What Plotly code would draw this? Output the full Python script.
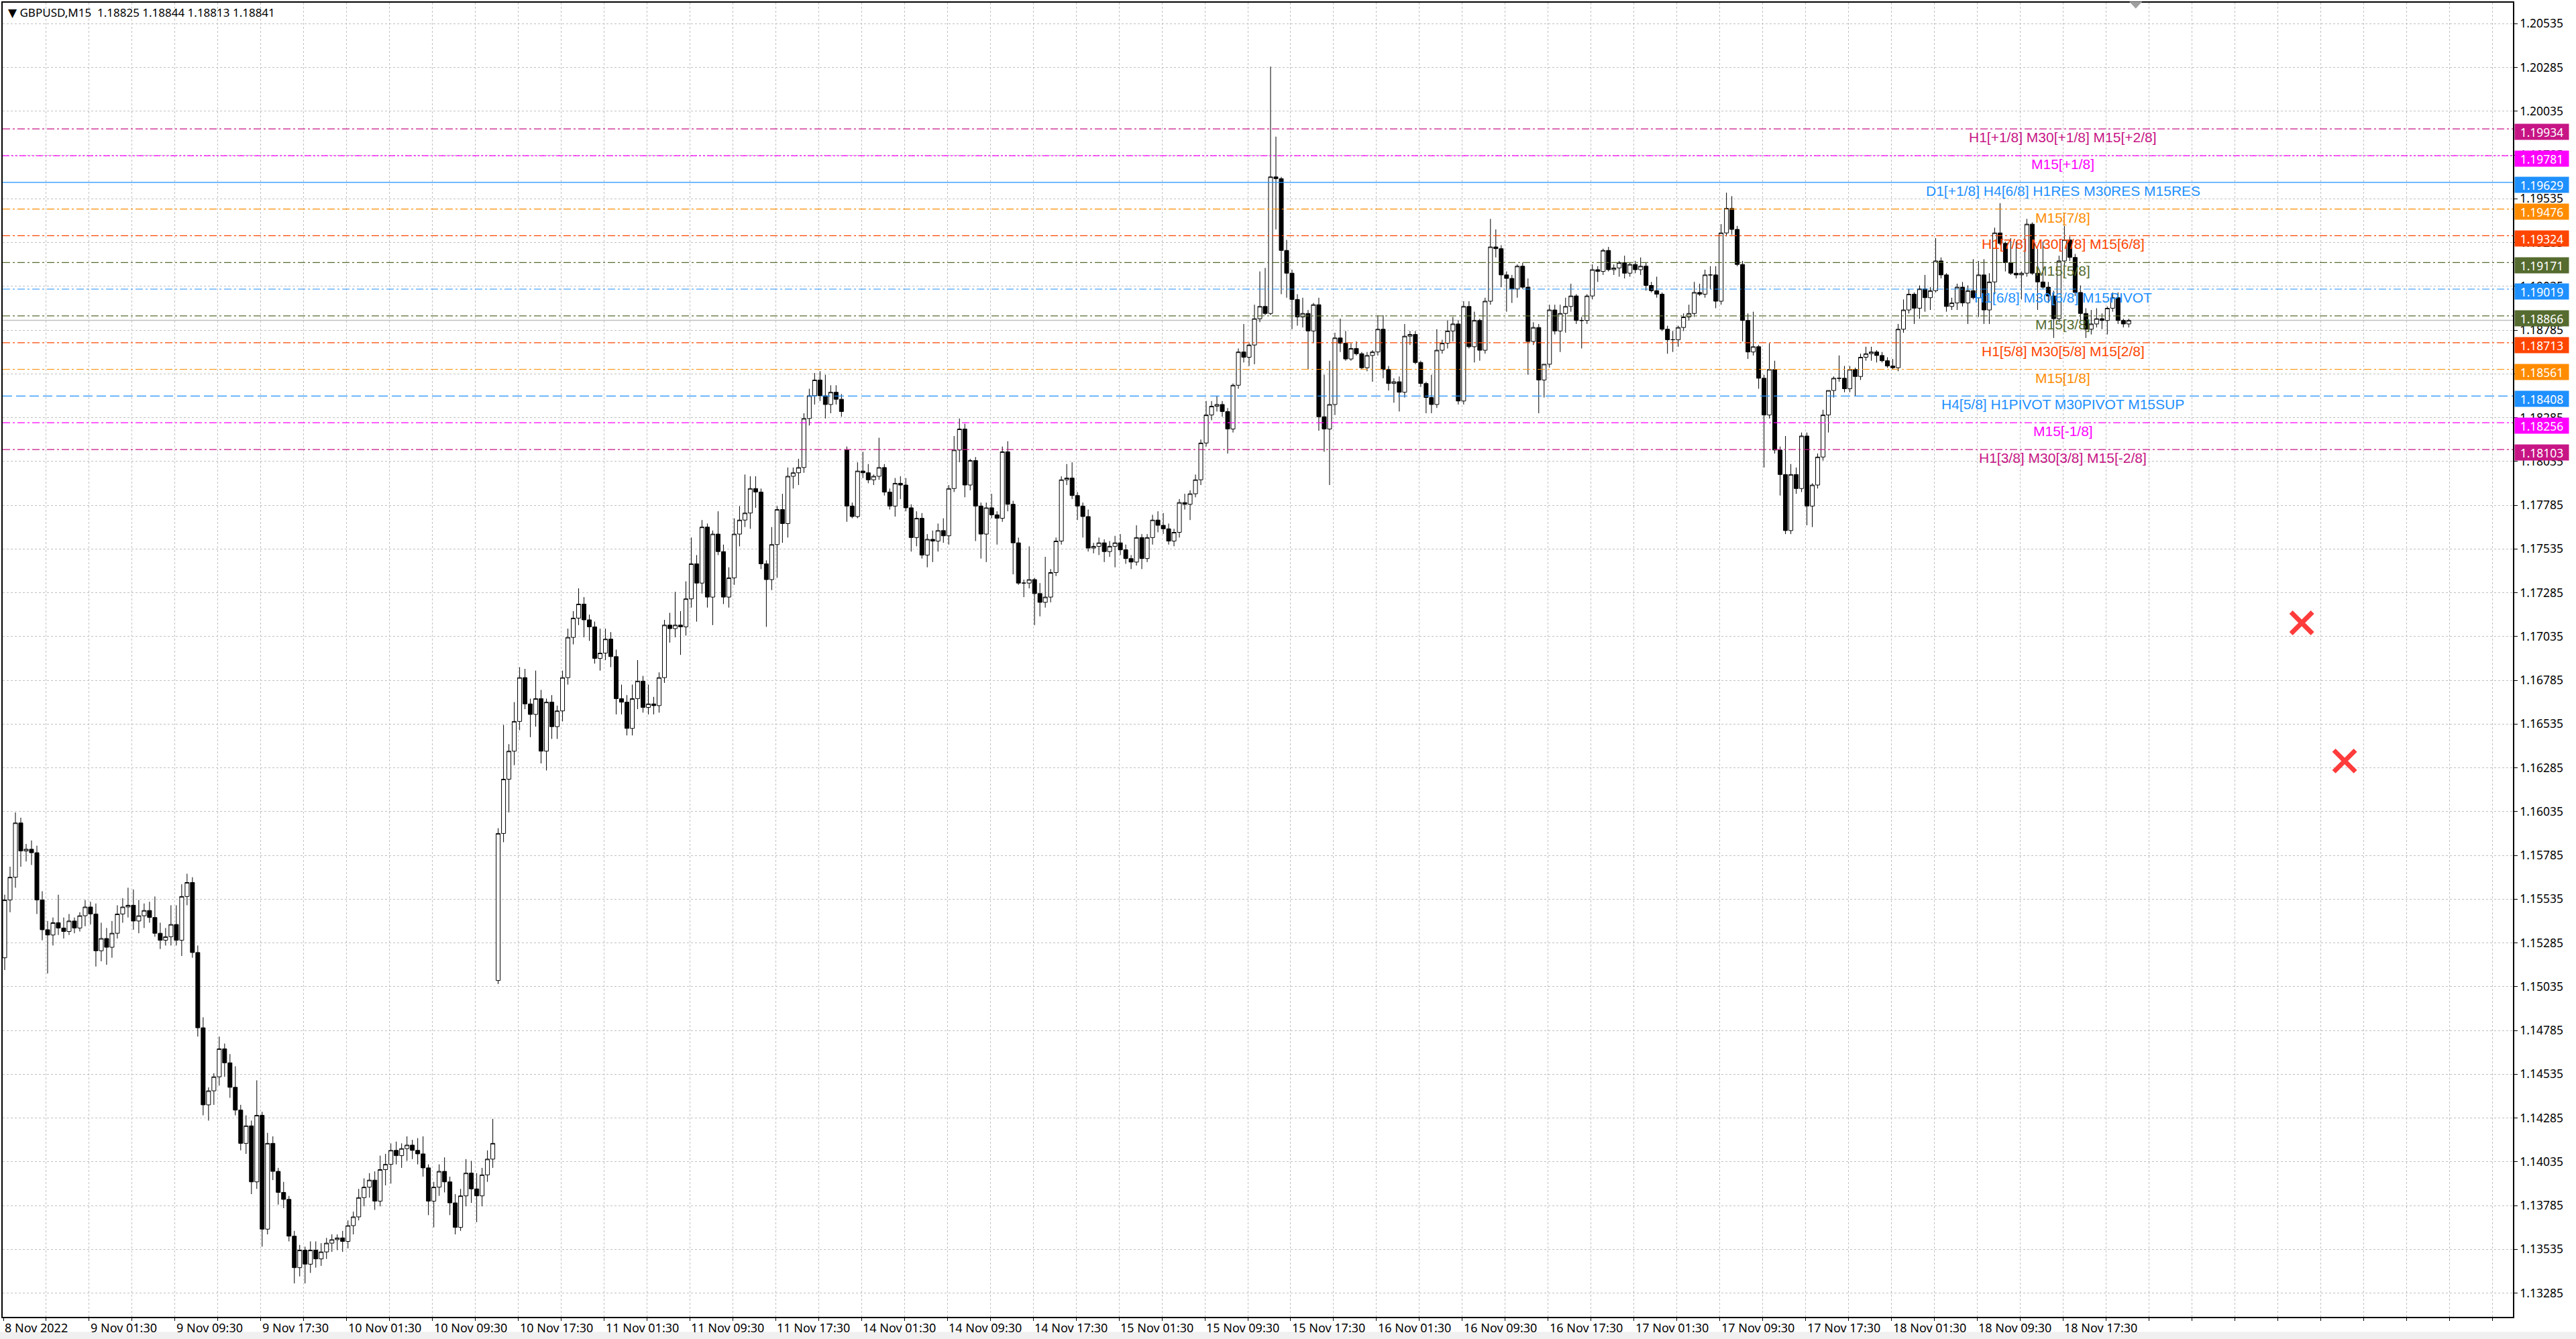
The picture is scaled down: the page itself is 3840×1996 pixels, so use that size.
import plotly.graph_objects as go

# ---------------- data (30-minute aggregation of the GBPUSD M15 chart) ----------------
opens = [
    1.1520, 1.1553, 1.1566, 1.1597, 1.1581, 1.1582, 1.1580, 1.1553, 1.1536, 1.1533,
    1.1540, 1.1537, 1.1535, 1.1541, 1.1537, 1.1544, 1.1549, 1.1545, 1.1524, 1.1531,
    1.1526, 1.1534, 1.1545, 1.1549, 1.1550, 1.1541, 1.1544, 1.1547, 1.1543, 1.1534,
    1.1530, 1.1532, 1.1539, 1.1530, 1.1555, 1.1563, 1.1523, 1.1480, 1.1436, 1.1444,
    1.1452, 1.1468, 1.1460, 1.1446, 1.1433, 1.1414, 1.1424, 1.1392, 1.1430, 1.1365,
    1.1414, 1.1398, 1.1386, 1.1382, 1.1361, 1.1343, 1.1353, 1.1345, 1.1353, 1.1348,
    1.1352, 1.1357, 1.1359, 1.1360, 1.1358, 1.1367, 1.1372, 1.1383, 1.1389, 1.1393,
    1.1381, 1.1399, 1.1402, 1.1410, 1.1407, 1.1411, 1.1413, 1.1410, 1.1408, 1.1400,
    1.1381, 1.1389, 1.1398, 1.1392, 1.1380, 1.1366, 1.1384, 1.1397, 1.1388, 1.1384,
    1.1396, 1.1405, 1.1507, 1.1591, 1.1622, 1.1638, 1.1655, 1.1680, 1.1665, 1.1659,
    1.1668, 1.1638, 1.1666, 1.1652, 1.1661, 1.1680, 1.1703, 1.1714, 1.1722, 1.1713,
    1.1709, 1.1691, 1.1694, 1.1702, 1.1692, 1.1668, 1.1666, 1.1651, 1.1668, 1.1678,
    1.1663, 1.1665, 1.1664, 1.1680, 1.1710, 1.1708, 1.1710, 1.1709, 1.1725, 1.1745,
    1.1734, 1.1766, 1.1726, 1.1762, 1.1752, 1.1726, 1.1737, 1.1762, 1.1770, 1.1774,
    1.1788, 1.1786, 1.1745, 1.1736, 1.1756, 1.1776, 1.1768, 1.1795, 1.1797, 1.1800,
    1.1828, 1.1841, 1.1850, 1.1841, 1.1836, 1.1843, 1.1839, 1.1810, 1.1778, 1.1772,
    1.1798, 1.1797, 1.1793, 1.1795, 1.1800, 1.1786, 1.1778, 1.1791, 1.1790, 1.1777,
    1.1760, 1.1771, 1.1750, 1.1759, 1.1758, 1.1764, 1.1761, 1.1788, 1.1810, 1.1822,
    1.1790, 1.1804, 1.1778, 1.1762, 1.1777, 1.1773, 1.1771, 1.1809, 1.1779, 1.1757,
    1.1734, 1.1734, 1.1736, 1.1728, 1.1723, 1.1726, 1.1740, 1.1758, 1.1793, 1.1794,
    1.1784, 1.1778, 1.1772, 1.1754, 1.1755, 1.1757, 1.1752, 1.1755, 1.1757, 1.1753,
    1.1748, 1.1746, 1.1760, 1.1748, 1.1760, 1.1770, 1.1767, 1.1765, 1.1758, 1.1763,
    1.1780, 1.1779, 1.1785, 1.1793, 1.1814, 1.1830, 1.1835, 1.1836, 1.1832, 1.1822,
    1.1847, 1.1866, 1.1863, 1.1870, 1.1885, 1.1892, 1.1888, 1.1966, 1.1965, 1.1924,
    1.1911, 1.1896, 1.1886, 1.1888, 1.1878, 1.1893, 1.1829, 1.1822, 1.1836, 1.1874,
    1.1871, 1.1862, 1.1868, 1.1865, 1.1857, 1.1864, 1.1866, 1.1879, 1.1856, 1.1848,
    1.1849, 1.1843, 1.1875, 1.1876, 1.1860, 1.1848, 1.1840, 1.1836, 1.1867, 1.1871,
    1.1878, 1.1882, 1.1838, 1.1892, 1.1869, 1.1884, 1.1867, 1.1895, 1.1926, 1.1925,
    1.1910, 1.1908, 1.1902, 1.1915, 1.1903, 1.1872, 1.1880, 1.1850, 1.1859, 1.1890,
    1.1878, 1.1888, 1.1892, 1.1898, 1.1884, 1.1884, 1.1898, 1.1913, 1.1912, 1.1924,
    1.1913, 1.1914, 1.1917, 1.1911, 1.1916, 1.1913, 1.1915, 1.1904, 1.1901, 1.1899,
    1.1879, 1.1873, 1.1873, 1.1880, 1.1886, 1.1888, 1.1900, 1.1899, 1.1910, 1.1910,
    1.1895, 1.1934, 1.1948, 1.1936, 1.1916, 1.1884, 1.1866, 1.1869, 1.1851, 1.1830,
    1.1856, 1.1810, 1.1796, 1.1764, 1.1796, 1.1788, 1.1818, 1.1778, 1.1790, 1.1806,
    1.1830, 1.1844, 1.1851, 1.1851, 1.1845, 1.1856, 1.1852, 1.1863, 1.1865, 1.1866,
    1.1864, 1.1861, 1.1858, 1.1857, 1.1879, 1.1890, 1.1899, 1.1891, 1.1902, 1.1897,
    1.1901, 1.1918, 1.1910, 1.1892, 1.1894, 1.1903, 1.1894, 1.1901, 1.1897, 1.1910,
    1.1890, 1.1906, 1.1934, 1.1928, 1.1917, 1.1911, 1.1910, 1.1911, 1.1939, 1.1911,
    1.1906, 1.1903, 1.1898, 1.1885, 1.1918, 1.1930, 1.1920, 1.1900, 1.1888, 1.1879,
    1.1882, 1.1885, 1.1884, 1.1891, 1.1897, 1.1884, 1.1882,
]

highs = [
    1.1556, 1.1572, 1.1603, 1.1600, 1.1585, 1.1587, 1.1584, 1.1558, 1.1541, 1.1543,
    1.1556, 1.1543, 1.1545, 1.1543, 1.1546, 1.1553, 1.1552, 1.1551, 1.1540, 1.1537,
    1.1541, 1.1550, 1.1554, 1.1560, 1.1559, 1.1553, 1.1551, 1.1552, 1.1555, 1.1540,
    1.1537, 1.1550, 1.1550, 1.1562, 1.1568, 1.1566, 1.1527, 1.1486, 1.1446, 1.1454,
    1.1475, 1.1471, 1.1465, 1.1458, 1.1436, 1.1430, 1.1427, 1.1450, 1.1432, 1.1420,
    1.1418, 1.1400, 1.1392, 1.1384, 1.1364, 1.1356, 1.1355, 1.1358, 1.1358, 1.1357,
    1.1360, 1.1362, 1.1362, 1.1364, 1.1370, 1.1375, 1.1388, 1.1394, 1.1397, 1.1398,
    1.1407, 1.1408, 1.1414, 1.1415, 1.1414, 1.1418, 1.1416, 1.1417, 1.1418, 1.1402,
    1.1392, 1.1402, 1.1406, 1.1395, 1.1385, 1.1388, 1.1405, 1.1404, 1.1397, 1.1400,
    1.1410, 1.1428, 1.1594, 1.1653, 1.1642, 1.1666, 1.1686, 1.1685, 1.1668, 1.1684,
    1.1673, 1.1668, 1.1670, 1.1664, 1.1684, 1.1708, 1.1718, 1.1731, 1.1726, 1.1716,
    1.1712, 1.1708, 1.1708, 1.1706, 1.1696, 1.1676, 1.1670, 1.1676, 1.1690, 1.1681,
    1.1676, 1.1669, 1.1683, 1.1713, 1.1717, 1.1729, 1.1718, 1.1735, 1.1760, 1.1750,
    1.1770, 1.1768, 1.1764, 1.1775, 1.1756, 1.1743, 1.1771, 1.1778, 1.1796, 1.1795,
    1.1795, 1.1788, 1.1747, 1.1766, 1.1778, 1.1785, 1.1800, 1.1800, 1.1805, 1.1831,
    1.1845, 1.1854, 1.1855, 1.1853, 1.1847, 1.1847, 1.1842, 1.1812, 1.1780, 1.1803,
    1.1809, 1.1802, 1.1796, 1.1817, 1.1802, 1.1788, 1.1794, 1.1795, 1.1794, 1.1779,
    1.1775, 1.1774, 1.1762, 1.1764, 1.1768, 1.1771, 1.1790, 1.1818, 1.1828, 1.1825,
    1.1805, 1.1806, 1.1780, 1.1780, 1.1785, 1.1775, 1.1812, 1.1815, 1.1781, 1.1760,
    1.1736, 1.1755, 1.1737, 1.1734, 1.1749, 1.1742, 1.1760, 1.1795, 1.1802, 1.1803,
    1.1786, 1.1780, 1.1776, 1.1757, 1.1760, 1.1759, 1.1758, 1.1761, 1.1762, 1.1756,
    1.1750, 1.1767, 1.1762, 1.1762, 1.1773, 1.1775, 1.1774, 1.1768, 1.1765, 1.1782,
    1.1785, 1.1787, 1.1796, 1.1816, 1.1838, 1.1838, 1.1841, 1.1838, 1.1834, 1.1848,
    1.1868, 1.1882, 1.1871, 1.1893, 1.1912, 1.1914, 1.2029, 1.1989, 1.1966, 1.1930,
    1.1913, 1.1899, 1.1897, 1.1890, 1.1894, 1.1897, 1.1853, 1.1861, 1.1877, 1.1885,
    1.1878, 1.1871, 1.1872, 1.1866, 1.1866, 1.1867, 1.1887, 1.1887, 1.1858, 1.1851,
    1.1852, 1.1882, 1.1878, 1.1878, 1.1861, 1.1849, 1.1853, 1.1879, 1.1873, 1.1884,
    1.1886, 1.1884, 1.1895, 1.1895, 1.1889, 1.1885, 1.1897, 1.1942, 1.1936, 1.1927,
    1.1912, 1.1910, 1.1916, 1.1917, 1.1908, 1.1883, 1.1882, 1.1859, 1.1893, 1.1893,
    1.1893, 1.1897, 1.1905, 1.1899, 1.1886, 1.1899, 1.1916, 1.1915, 1.1925, 1.1926,
    1.1916, 1.1918, 1.1921, 1.1917, 1.1918, 1.1920, 1.1917, 1.1906, 1.1909, 1.1900,
    1.1881, 1.1878, 1.1881, 1.1888, 1.1893, 1.1906, 1.1905, 1.1913, 1.1915, 1.1915,
    1.1939, 1.1957, 1.1955, 1.1938, 1.1918, 1.1888, 1.1889, 1.1870, 1.1853, 1.1871,
    1.1861, 1.1812, 1.1818, 1.1802, 1.1800, 1.1820, 1.1820, 1.1791, 1.1808, 1.1833,
    1.1844, 1.1852, 1.1864, 1.1858, 1.1858, 1.1857, 1.1865, 1.1869, 1.1869, 1.1867,
    1.1866, 1.1863, 1.1862, 1.1882, 1.1896, 1.1902, 1.1900, 1.1904, 1.1910, 1.1903,
    1.1931, 1.1920, 1.1911, 1.1897, 1.1905, 1.1906, 1.1904, 1.1919, 1.1918, 1.1919,
    1.1911, 1.1937, 1.1951, 1.1929, 1.1931, 1.1929, 1.1912, 1.1942, 1.1940, 1.1925,
    1.1929, 1.1906, 1.1901, 1.1921, 1.1938, 1.1932, 1.1922, 1.1904, 1.1891, 1.1890,
    1.1891, 1.1888, 1.1892, 1.1900, 1.1900, 1.1885, 1.1885,
]

lows = [
    1.1513, 1.1546, 1.1560, 1.1572, 1.1575, 1.1573, 1.1545, 1.1530, 1.1511, 1.1527,
    1.1533, 1.1531, 1.1533, 1.1534, 1.1535, 1.1538, 1.1539, 1.1515, 1.1518, 1.1516,
    1.1520, 1.1531, 1.1540, 1.1543, 1.1536, 1.1534, 1.1537, 1.1540, 1.1532, 1.1525,
    1.1527, 1.1527, 1.1527, 1.1521, 1.1550, 1.1520, 1.1475, 1.1430, 1.1427, 1.1436,
    1.1447, 1.1452, 1.1440, 1.1430, 1.1410, 1.1408, 1.1385, 1.1388, 1.1355, 1.1362,
    1.1393, 1.1379, 1.1377, 1.1358, 1.1334, 1.1338, 1.1334, 1.1340, 1.1343, 1.1344,
    1.1348, 1.1352, 1.1353, 1.1352, 1.1354, 1.1362, 1.1370, 1.1378, 1.1383, 1.1376,
    1.1378, 1.1390, 1.1391, 1.1402, 1.1400, 1.1404, 1.1405, 1.1402, 1.1395, 1.1373,
    1.1366, 1.1384, 1.1386, 1.1373, 1.1362, 1.1364, 1.1378, 1.1380, 1.1369, 1.1378,
    1.1392, 1.1400, 1.1505, 1.1586, 1.1603, 1.1630, 1.1650, 1.1662, 1.1646, 1.1652,
    1.1631, 1.1627, 1.1645, 1.1645, 1.1655, 1.1676, 1.1699, 1.1710, 1.1703, 1.1701,
    1.1688, 1.1684, 1.1690, 1.1686, 1.1659, 1.1659, 1.1647, 1.1647, 1.1662, 1.1660,
    1.1659, 1.1659, 1.1660, 1.1677, 1.1700, 1.1703, 1.1693, 1.1704, 1.1720, 1.1712,
    1.1728, 1.1720, 1.1710, 1.1750, 1.1722, 1.1720, 1.1733, 1.1755, 1.1766, 1.1765,
    1.1777, 1.1742, 1.1709, 1.1730, 1.1737, 1.1757, 1.1760, 1.1788, 1.1790, 1.1797,
    1.1824, 1.1836, 1.1838, 1.1828, 1.1831, 1.1836, 1.1829, 1.1769, 1.1771, 1.1771,
    1.1794, 1.1791, 1.1790, 1.1793, 1.1784, 1.1776, 1.1772, 1.1782, 1.1775, 1.1752,
    1.1755, 1.1748, 1.1743, 1.1746, 1.1752, 1.1757, 1.1756, 1.1786, 1.1803, 1.1783,
    1.1787, 1.1758, 1.1748, 1.1746, 1.1771, 1.1756, 1.1769, 1.1775, 1.1739, 1.1733,
    1.1726, 1.1731, 1.1710, 1.1715, 1.1720, 1.1723, 1.1738, 1.1756, 1.1790, 1.1782,
    1.1770, 1.1760, 1.1752, 1.1751, 1.1750, 1.1746, 1.1749, 1.1743, 1.1750, 1.1745,
    1.1742, 1.1744, 1.1742, 1.1746, 1.1756, 1.1763, 1.1762, 1.1756, 1.1755, 1.1760,
    1.1776, 1.1770, 1.1783, 1.1790, 1.1812, 1.1827, 1.1832, 1.1829, 1.1808, 1.1820,
    1.1845, 1.1860, 1.1858, 1.1859, 1.1883, 1.1887, 1.1887, 1.1936, 1.1899, 1.1897,
    1.1879, 1.1881, 1.1880, 1.1856, 1.1871, 1.1821, 1.1809, 1.1790, 1.1830, 1.1866,
    1.1861, 1.1861, 1.1864, 1.1856, 1.1855, 1.1849, 1.1864, 1.1851, 1.1844, 1.1837,
    1.1832, 1.1840, 1.1870, 1.1859, 1.1846, 1.1831, 1.1831, 1.1834, 1.1865, 1.1868,
    1.1872, 1.1836, 1.1836, 1.1868, 1.1860, 1.1861, 1.1865, 1.1893, 1.1920, 1.1903,
    1.1889, 1.1894, 1.1897, 1.1902, 1.1853, 1.1870, 1.1831, 1.1840, 1.1857, 1.1876,
    1.1866, 1.1877, 1.1889, 1.1882, 1.1868, 1.1882, 1.1896, 1.1906, 1.1910, 1.1912,
    1.1910, 1.1909, 1.1908, 1.1909, 1.1911, 1.1910, 1.1901, 1.1900, 1.1897, 1.1878,
    1.1865, 1.1866, 1.1869, 1.1878, 1.1884, 1.1886, 1.1898, 1.1897, 1.1902, 1.1891,
    1.1893, 1.1932, 1.1933, 1.1915, 1.1872, 1.1862, 1.1864, 1.1845, 1.1800, 1.1828,
    1.1808, 1.1784, 1.1762, 1.1762, 1.1785, 1.1786, 1.1767, 1.1766, 1.1788, 1.1804,
    1.1820, 1.1840, 1.1849, 1.1843, 1.1843, 1.1841, 1.1850, 1.1861, 1.1861, 1.1860,
    1.1860, 1.1857, 1.1856, 1.1855, 1.1877, 1.1888, 1.1882, 1.1885, 1.1889, 1.1890,
    1.1900, 1.1908, 1.1889, 1.1890, 1.1890, 1.1892, 1.1882, 1.1896, 1.1886, 1.1882,
    1.1882, 1.1899, 1.1927, 1.1912, 1.1910, 1.1908, 1.1896, 1.1909, 1.1910, 1.1890,
    1.1902, 1.1894, 1.1874, 1.1883, 1.1915, 1.1918, 1.1898, 1.1884, 1.1874, 1.1876,
    1.1880, 1.1879, 1.1876, 1.1889, 1.1882, 1.1880, 1.1880,
]

closes = [
    1.1553, 1.1566, 1.1597, 1.1581, 1.1582, 1.1580, 1.1553, 1.1536, 1.1533, 1.1540,
    1.1537, 1.1535, 1.1541, 1.1537, 1.1544, 1.1549, 1.1545, 1.1524, 1.1531, 1.1526,
    1.1534, 1.1545, 1.1549, 1.1550, 1.1541, 1.1544, 1.1547, 1.1543, 1.1534, 1.1530,
    1.1532, 1.1539, 1.1530, 1.1555, 1.1563, 1.1523, 1.1480, 1.1436, 1.1444, 1.1452,
    1.1468, 1.1460, 1.1446, 1.1433, 1.1414, 1.1424, 1.1392, 1.1430, 1.1365, 1.1414,
    1.1398, 1.1386, 1.1382, 1.1361, 1.1343, 1.1353, 1.1345, 1.1353, 1.1348, 1.1352,
    1.1357, 1.1359, 1.1360, 1.1358, 1.1367, 1.1372, 1.1383, 1.1389, 1.1393, 1.1381,
    1.1399, 1.1402, 1.1410, 1.1407, 1.1411, 1.1413, 1.1410, 1.1408, 1.1400, 1.1381,
    1.1389, 1.1398, 1.1392, 1.1380, 1.1366, 1.1384, 1.1397, 1.1388, 1.1384, 1.1396,
    1.1405, 1.1414, 1.1591, 1.1622, 1.1638, 1.1655, 1.1680, 1.1665, 1.1659, 1.1668,
    1.1638, 1.1666, 1.1652, 1.1661, 1.1680, 1.1703, 1.1714, 1.1722, 1.1713, 1.1709,
    1.1691, 1.1694, 1.1702, 1.1692, 1.1668, 1.1666, 1.1651, 1.1668, 1.1678, 1.1663,
    1.1665, 1.1664, 1.1680, 1.1710, 1.1708, 1.1710, 1.1709, 1.1725, 1.1745, 1.1734,
    1.1766, 1.1726, 1.1762, 1.1752, 1.1726, 1.1737, 1.1762, 1.1770, 1.1774, 1.1788,
    1.1786, 1.1745, 1.1736, 1.1756, 1.1776, 1.1768, 1.1795, 1.1797, 1.1800, 1.1828,
    1.1841, 1.1850, 1.1841, 1.1836, 1.1843, 1.1839, 1.1832, 1.1778, 1.1772, 1.1798,
    1.1797, 1.1793, 1.1795, 1.1800, 1.1786, 1.1778, 1.1791, 1.1790, 1.1777, 1.1760,
    1.1771, 1.1750, 1.1759, 1.1758, 1.1764, 1.1761, 1.1788, 1.1810, 1.1822, 1.1790,
    1.1804, 1.1778, 1.1762, 1.1777, 1.1773, 1.1771, 1.1809, 1.1779, 1.1757, 1.1734,
    1.1734, 1.1736, 1.1728, 1.1723, 1.1726, 1.1740, 1.1758, 1.1793, 1.1794, 1.1784,
    1.1778, 1.1772, 1.1754, 1.1755, 1.1757, 1.1752, 1.1755, 1.1757, 1.1753, 1.1748,
    1.1746, 1.1760, 1.1748, 1.1760, 1.1770, 1.1767, 1.1765, 1.1758, 1.1763, 1.1780,
    1.1779, 1.1785, 1.1793, 1.1814, 1.1830, 1.1835, 1.1836, 1.1832, 1.1822, 1.1847,
    1.1866, 1.1863, 1.1870, 1.1885, 1.1892, 1.1888, 1.1966, 1.1965, 1.1924, 1.1911,
    1.1896, 1.1886, 1.1888, 1.1878, 1.1893, 1.1829, 1.1822, 1.1836, 1.1874, 1.1871,
    1.1862, 1.1868, 1.1865, 1.1857, 1.1864, 1.1866, 1.1879, 1.1856, 1.1848, 1.1849,
    1.1843, 1.1875, 1.1876, 1.1860, 1.1848, 1.1840, 1.1836, 1.1867, 1.1871, 1.1878,
    1.1882, 1.1838, 1.1892, 1.1869, 1.1884, 1.1867, 1.1895, 1.1926, 1.1925, 1.1910,
    1.1908, 1.1902, 1.1915, 1.1903, 1.1872, 1.1880, 1.1850, 1.1859, 1.1890, 1.1878,
    1.1888, 1.1892, 1.1898, 1.1884, 1.1884, 1.1898, 1.1913, 1.1912, 1.1924, 1.1913,
    1.1914, 1.1917, 1.1911, 1.1916, 1.1913, 1.1915, 1.1904, 1.1901, 1.1899, 1.1879,
    1.1873, 1.1873, 1.1880, 1.1886, 1.1888, 1.1900, 1.1899, 1.1910, 1.1910, 1.1895,
    1.1934, 1.1948, 1.1936, 1.1916, 1.1884, 1.1866, 1.1869, 1.1851, 1.1830, 1.1856,
    1.1810, 1.1796, 1.1764, 1.1796, 1.1788, 1.1818, 1.1778, 1.1790, 1.1806, 1.1830,
    1.1844, 1.1851, 1.1851, 1.1845, 1.1856, 1.1852, 1.1863, 1.1865, 1.1866, 1.1864,
    1.1861, 1.1858, 1.1857, 1.1879, 1.1890, 1.1899, 1.1891, 1.1902, 1.1897, 1.1901,
    1.1918, 1.1910, 1.1892, 1.1894, 1.1903, 1.1894, 1.1901, 1.1897, 1.1910, 1.1890,
    1.1906, 1.1934, 1.1928, 1.1917, 1.1911, 1.1910, 1.1911, 1.1939, 1.1911, 1.1906,
    1.1903, 1.1898, 1.1885, 1.1918, 1.1930, 1.1920, 1.1900, 1.1888, 1.1879, 1.1882,
    1.1885, 1.1884, 1.1891, 1.1897, 1.1884, 1.1882, 1.1884,
]

time_labels = [
    "8 Nov 2022", "9 Nov 01:30", "9 Nov 09:30", "9 Nov 17:30", "10 Nov 01:30",
    "10 Nov 09:30", "10 Nov 17:30", "11 Nov 01:30", "11 Nov 09:30", "11 Nov 17:30",
    "14 Nov 01:30", "14 Nov 09:30", "14 Nov 17:30", "15 Nov 01:30", "15 Nov 09:30",
    "15 Nov 17:30", "16 Nov 01:30", "16 Nov 09:30", "16 Nov 17:30", "17 Nov 01:30",
    "17 Nov 09:30", "17 Nov 17:30", "18 Nov 01:30", "18 Nov 09:30", "18 Nov 17:30",
]

level_prices = [1.19934, 1.19781, 1.19629, 1.19476, 1.19324, 1.19171, 1.19019,
                1.18866, 1.18713, 1.18561, 1.18408, 1.18256, 1.18103]
level_texts = [
    "H1[+1/8] M30[+1/8] M15[+2/8]", "M15[+1/8]", "D1[+1/8] H4[6/8] H1RES M30RES M15RES",
    "M15[7/8]", "H1[7/8] M30[7/8] M15[6/8]", "M15[5/8]", "H1[6/8] M30[6/8] M15PIVOT",
    "M15[3/8]", "H1[5/8] M30[5/8] M15[2/8]", "M15[1/8]", "H4[5/8] H1PIVOT M30PIVOT M15SUP",
    "M15[-1/8]", "H1[3/8] M30[3/8] M15[-2/8]",
]
level_colors = ["#C71585", "#FF00FF", "#1E90FF", "#FF8C00", "#FF4500", "#556B2F", "#1E90FF",
                "#556B2F", "#FF4500", "#FF8C00", "#1E90FF", "#FF00FF", "#C71585"]
level_styles = ["dashdot", "dashdotdot", "solid", "dashdot", "dashdot", "dashdot", "dashdot",
                "dashdot", "dashdot", "dashdot", "longdash", "dashdot", "dashdot"]

header_text = "\u25BC GBPUSD,M15\u00a0 1.18825 1.18844 1.18813 1.18841"
bid_price = 1.18841

cross_pos = [428.25, 436.25]
cross_price = [1.17113, 1.16324]

# ---------------- figure ----------------
W, H = 3840, 1996
ML, MR, MT, MB = 2, 94, 3, 33
X_RANGE = [-0.375, 467.625]
Y_RANGE = [1.13149, 1.20655]
AXIS_FONT = "Noto Sans, DejaVu Sans, sans-serif"
LABEL_FONT = "Liberation Sans, Arial, sans-serif"

dash_map = {
    "solid": "solid",
    "dashdot": "11px,4px,3px,4px",
    "dashdotdot": "10px,3px,3px,3px,3px,3px",
    "longdash": "14px,6px",
}

bar_pos = list(range(len(closes)))
label_pos = [16 * k - 0.25 for k in range(len(time_labels))]

fig = go.Figure()
fig.add_trace(go.Candlestick(
    x=bar_pos, open=opens, high=highs, low=lows, close=closes,
    increasing=dict(line=dict(color="black", width=1), fillcolor="white"),
    decreasing=dict(line=dict(color="black", width=1), fillcolor="black"),
    whiskerwidth=0, showlegend=False, hoverinfo="skip",
))
fig.add_trace(go.Scatter(
    x=cross_pos, y=cross_price, mode="markers", showlegend=False, hoverinfo="skip",
    marker=dict(symbol="x-thin", size=32, line=dict(color="#FF3B3B", width=7)),
))

shapes = []
shapes.append(dict(type="line", xref="paper", x0=0, x1=1, yref="y", y0=bid_price, y1=bid_price,
                   line=dict(color="#C0C0C0", width=1.5), layer="between"))
for p, col, st in zip(level_prices, level_colors, level_styles):
    shapes.append(dict(type="line", xref="paper", x0=0, x1=1, yref="y", y0=p, y1=p,
                       line=dict(color=col, width=1.2, dash=dash_map[st]), layer="above"))
shapes.append(dict(type="path", xref="x", yref="paper",
                   path="M 396.1 1.0008 L 398.5 1.0008 L 397.3 0.9955 Z",
                   fillcolor="#A0A0A0", line=dict(width=0)))
shapes.append(dict(type="rect", xref="paper", yref="paper", x0=-0.01, x1=1.03,
                   y0=-0.0175, y1=-0.0113, fillcolor="#F0F0F0", line=dict(width=0), layer="below"))

annotations = []
for p, txt, col in zip(level_prices, level_texts, level_colors):
    annotations.append(dict(x=383.75, xref="x", y=p, yref="y", text=txt, showarrow=False,
                            xanchor="center", yanchor="top", yshift=1,
                            font=dict(family=LABEL_FONT, size=21, color=col)))
    annotations.append(dict(x=1, xref="paper", y=p, yref="y", text=f"{p:.5f}", showarrow=False,
                            xanchor="left", yanchor="middle", xshift=2, yshift=-4, bgcolor=col,
                            width=78, height=21, borderpad=1, align="center",
                            font=dict(family=AXIS_FONT, size=17.5, color="white")))
for pos, txt in zip(label_pos, time_labels):
    annotations.append(dict(x=pos, xref="x", y=0, yref="paper", text=txt, showarrow=False,
                            xanchor="left", yanchor="top", yshift=-2,
                            font=dict(family=AXIS_FONT, size=18, color="black")))
annotations.append(dict(x=0, xref="paper", y=1, yref="paper", text=header_text, showarrow=False,
                        xanchor="left", yanchor="middle", xshift=6, yshift=-14,
                        font=dict(family=AXIS_FONT, size=17, color="black")))

fig.update_layout(
    width=W, height=H,
    margin=dict(l=ML, r=MR, t=MT, b=MB, pad=0),
    paper_bgcolor="white", plot_bgcolor="white",
    showlegend=False, hovermode=False,
    boxgap=0.25, boxgroupgap=0,
    font=dict(family=AXIS_FONT, color="black"),
    shapes=shapes, annotations=annotations,
    xaxis=dict(
        range=X_RANGE, rangeslider=dict(visible=False),
        tickmode="linear", tick0=-0.25, dtick=8,
        showticklabels=False, ticks="outside", ticklen=4, tickcolor="black",
        showgrid=True, gridcolor="#C0C0C0", gridwidth=1, griddash="3px,3px",
        showline=True, linecolor="black", linewidth=1.5, mirror=True, zeroline=False,
    ),
    yaxis=dict(
        range=Y_RANGE, side="right",
        tickmode="linear", tick0=1.20535, dtick=0.0025, tickformat=".5f",
        ticks="outside", ticklen=5, tickcolor="black",
        tickfont=dict(family=AXIS_FONT, size=17.5, color="black"),
        showgrid=True, gridcolor="#C0C0C0", gridwidth=1, griddash="3px,3px",
        showline=True, linecolor="black", linewidth=1.5, mirror=True, zeroline=False,
    ),
)

fig.write_html("out.html", config={"displayModeBar": False},
               post_script="document.body.style.margin='0';document.body.style.overflow='hidden';")
